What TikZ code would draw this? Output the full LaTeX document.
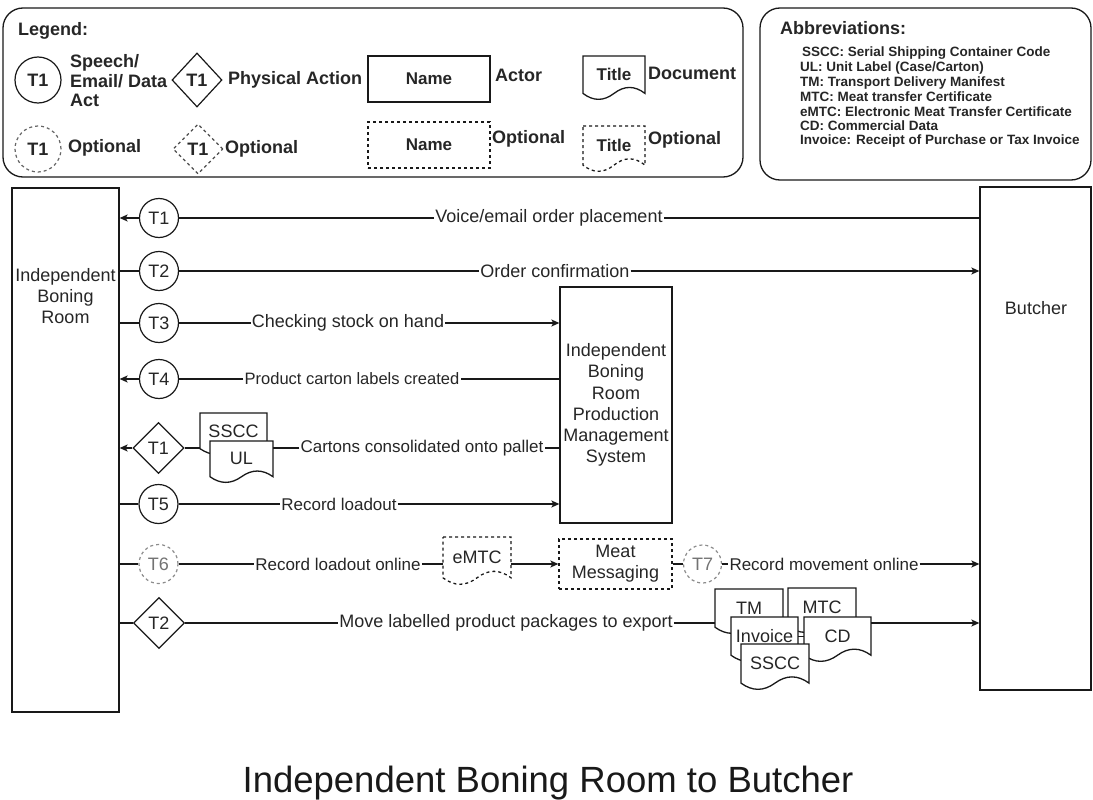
\documentclass[tikz,border=0pt]{standalone}
\usepackage{fontspec}
\setmainfont{Liberation Sans}
\usetikzlibrary{shapes.geometric,arrows.meta}

\newcommand{\fs}[2]{\fontsize{#1}{#2}\selectfont}

% document shape with a wavy bottom edge; the named node covers its upper part
% [style] name x y w h text font
\newcommand{\docnode}[8][]{%
  \path[doc,#1] (#3,#4) -- ({#3+#5},#4) -- ({#3+#5},{#4+0.85*#6})
    .. controls ({#3+0.8333*#5},{#4+0.67*#6}) and ({#3+0.6667*#5},{#4+0.67*#6}) .. ({#3+0.5*#5},{#4+0.85*#6})
    .. controls ({#3+0.3333*#5},{#4+1.03*#6}) and ({#3+0.1667*#5},{#4+1.03*#6}) .. (#3,{#4+0.85*#6}) -- cycle;
  \node[inner sep=0pt, minimum width=#5, minimum height={0.85*#6}, font={#8}] (#2) at ({#3+0.5*#5},{#4+0.425*#6}) {#7};
}

\begin{document}
\begin{tikzpicture}[x=1pt,y=-1pt,
  every node/.style={text=black!85},
  conn/.style={line width=1.2pt, draw=black!90},
  arr/.style={conn, -{Stealth[length=8pt,width=7pt,inset=2pt]}},
  box/.style={draw=black!90, line width=1.3pt, fill=white, inner sep=0pt},
  doc/.style={draw=black!90, line width=1.3pt, fill=white},
  opt/.style={dash pattern=on 3pt off 3pt},
  circ/.style={circle, draw=black!90, line width=1.2pt, fill=white, minimum size=39pt, inner sep=0pt, font=\fs{18}{21}},
  optcirc/.style={circ, opt, draw=black!45, text=black!55},
  dia/.style={diamond, draw=black!90, line width=1.2pt, fill=white, minimum width=51pt, minimum height=51pt, inner sep=0pt, font=\fs{18}{21}},
  lbl/.style={inner sep=1pt, fill=white, font=\fs{18}{21}},
  slbl/.style={lbl, font=\fs{17}{20}},
  panel/.style={draw=black!90, line width=1.3pt, rounded corners=20pt, inner sep=0pt},
  legt/.style={inner sep=0pt, anchor=west, font=\bfseries\fs{18}{19.5}},
  abbt/.style={inner sep=0pt, anchor=base west, font=\bfseries\fs{13.5}{15}},
]
\useasboundingbox (0,0) rectangle (1093,800);

% ---------- legend ----------
\node[panel, minimum width=740pt, minimum height=169pt] (legend) at (373,92.5) {};
\node[legt] (legendtitle) at (18,31) {Legend:};

\node[circ, minimum size=46pt, font=\bfseries\fs{18}{21}] (lgcirc) at (38,80) {T1};
\node[legt, align=left] (lgcirctext) at (70,81) {Speech/\\Email/ Data\\Act};
\node[dia, minimum width=50pt, minimum height=54pt, font=\bfseries\fs{18}{21}] (lgdia) at (197,80) {T1};
\node[legt] (lgdiatext) at (228,80) {Physical Action};
\node[box, minimum width=122pt, minimum height=46pt, font=\bfseries\fs{17}{20}] (lgactor) at (429,79) {Name};
\node[legt] (lgactortext) at (495,75) {Actor};
\docnode{lgdoc}{583}{56}{62}{44}{Title}{\bfseries\fs{17}{20}}
\node[legt] (lgdoctext) at (648,73) {Document};

\node[circ, opt, draw=black!60, minimum size=46pt, font=\bfseries\fs{18}{21}] (lgocirc) at (38,149) {T1};
\node[legt] (lgocirctext) at (68,148) {Optional};
\node[dia, opt, draw=black!70, minimum width=50pt, minimum height=50pt, font=\bfseries\fs{18}{21}] (lgodia) at (198,149) {T1};
\node[legt] (lgodiatext) at (225,149) {Optional};
\node[box, opt, minimum width=122pt, minimum height=46pt, font=\bfseries\fs{17}{20}] (lgoactor) at (429,145) {Name};
\node[legt] (lgoactortext) at (492,139) {Optional};
\docnode[opt]{lgodoc}{583}{126}{62}{46}{Title}{\bfseries\fs{17}{20}}
\node[legt] (lgodoctext) at (648,140) {Optional};

% ---------- abbreviations ----------
\node[panel, minimum width=331pt, minimum height=172pt] (abbr) at (925.5,94) {};
\node[legt] (abbrtitle) at (780,28) {Abbreviations:};
\node[abbt] (ab1) at (802,57) {SSCC: Serial Shipping Container Code};
\node[abbt] (ab2) at (800,72) {UL: Unit Label (Case/Carton)};
\node[abbt] (ab3) at (800,87) {TM: Transport Delivery Manifest};
\node[abbt] (ab4) at (800,102) {MTC: Meat transfer Certificate};
\node[abbt] (ab5) at (800,116) {eMTC: Electronic Meat Transfer Certificate};
\node[abbt] (ab6) at (800,130) {CD: Commercial Data};
\node[abbt] (ab7) at (800,144) {Invoice: Receipt of Purchase or Tax Invoice};

% ---------- actors ----------
\node[box, minimum width=107pt, minimum height=524pt] (ibr) at (65.5,450) {};
\node[align=center, inner sep=0pt, font=\fs{18}{21}] (ibrtext) at (65.5,296) {Independent\\Boning\\Room};
\node[box, minimum width=111pt, minimum height=503pt] (butcher) at (1035.5,438.5) {};
\node[inner sep=0pt, font=\fs{18}{21}] (butchertext) at (1036,308) {Butcher};
\node[box, minimum width=112pt, minimum height=236pt, align=center, font=\fs{18}{21.3}] (pms) at (616,405)
  {Independent\\Boning\\Room\\Production\\Management\\System};
\node[box, opt, minimum width=113pt, minimum height=50pt, align=center, font=\fs{18}{21}] (mm) at (615.5,564) {Meat\\Messaging};

% ---------- transaction markers ----------
\node[circ] (c1) at (159,218) {T1};
\node[circ] (c2) at (159,271) {T2};
\node[circ] (c3) at (159,323) {T3};
\node[circ] (c4) at (159,379) {T4};
\node[dia] (d1) at (158.5,448) {T1};
\node[circ] (c5) at (158.5,504) {T5};
\node[optcirc] (c6) at (158.5,564) {T6};
\node[dia] (d2) at (159,623) {T2};
\node[optcirc, minimum size=38pt] (c7) at (702.5,564) {T7};

% ---------- message labels ----------
\node[lbl] (l1) at (549,218) {Voice/email order placement};
\node[lbl] (l2) at (555,271) {Order confirmation};
\node[lbl] (l3) at (348,323) {Checking stock on hand};
\node[lbl, font=\fs{16.5}{19}] (l4) at (352,379) {Product carton labels created};
\node[slbl] (l5) at (422,448) {Cartons consolidated onto pallet};
\node[slbl] (l6) at (339,504) {Record loadout};
\node[slbl] (l7) at (338,564) {Record loadout online};
\node[slbl] (l8) at (824,564) {Record movement online};
\node[lbl] (l9) at (506,623) {Move labelled product packages to export};

% ---------- documents ----------
\docnode{sscca}{200}{413}{67}{42}{SSCC}{\fs{18}{21}}
\docnode{ul}{210}{441}{63}{42}{UL}{\fs{18}{21}}
\docnode[opt]{emtc}{443}{537}{68}{48}{eMTC}{\fs{18}{21}}
\docnode{tm}{715}{589}{68}{45}{TM}{\fs{18}{21}}
\docnode{mtc}{788}{588}{68}{45}{MTC}{\fs{18}{21}}
\docnode{invoice}{731}{617}{67}{45}{Invoice}{\fs{18}{21}}
\docnode{cd}{804}{617}{67}{45}{CD}{\fs{18}{21}}
\docnode{ssccb}{741}{644}{68}{46}{SSCC}{\fs{18}{21}}

% ---------- connectors ----------
% T1: order placed by the butcher
\draw[conn] (butcher.west |- l1) -- (l1.east);
\draw[conn] (l1.west) -- (l1.west -| c1.east);
\draw[arr] (c1.west) -- (ibr.east |- c1);
% T2: confirmation
\draw[conn] (ibr.east |- c2) -- (c2.west);
\draw[conn] (c2.east) -- (c2.east -| l2.west);
\draw[arr] (l2.east) -- (butcher.west |- l2);
% T3: stock check
\draw[conn] (ibr.east |- c3) -- (c3.west);
\draw[conn] (c3.east) -- (c3.east -| l3.west);
\draw[arr] (l3.east) -- (pms.west |- l3);
% T4: carton labels
\draw[conn] (pms.west |- l4) -- (l4.east);
\draw[conn] (l4.west) -- (l4.west -| c4.east);
\draw[arr] (c4.west) -- (ibr.east |- c4);
% T1 physical: pallet consolidation
\draw[conn] (pms.west |- l5) -- (l5.east);
\draw[conn] (l5.west) -- (l5.west -| ul.east);
\draw[conn] (d1.east) -- (d1.east -| sscca.west);
\draw[arr] (d1.west) -- (ibr.east |- d1);
% T5: loadout
\draw[conn] (ibr.east |- c5) -- (c5.west);
\draw[conn] (c5.east) -- (c5.east -| l6.west);
\draw[arr] (l6.east) -- (pms.west |- l6);
% T6 / T7: online records
\draw[conn] (ibr.east |- c6) -- (c6.west);
\draw[conn] (c6.east) -- (c6.east -| l7.west);
\draw[conn] (l7.east) -- (l7.east -| emtc.west);
\draw[arr] (mm.west -| emtc.east) -- (mm.west);
\draw[conn] (mm.east) -- (c7.west);
\draw[conn] (c7.east) -- (c7.east -| l8.west);
\draw[arr] (l8.east) -- (butcher.west |- l8);
% T2 physical: export move
\draw[conn] (ibr.east |- d2) -- (d2.west);
\draw[conn] (d2.east) -- (d2.east -| l9.west);
\draw[conn] (l9.east) -- (l9.east -| tm.west);
\draw[conn] (invoice.east) -- (invoice.east -| cd.west);
\draw[arr] (l9 -| cd.east) -- (butcher.west |- l9);

% ---------- title ----------
\node[anchor=base, inner sep=0pt, font=\fs{36.5}{40}, text=black!90] (title) at (548,792) {Independent Boning Room to Butcher};
\end{tikzpicture}
\end{document}
